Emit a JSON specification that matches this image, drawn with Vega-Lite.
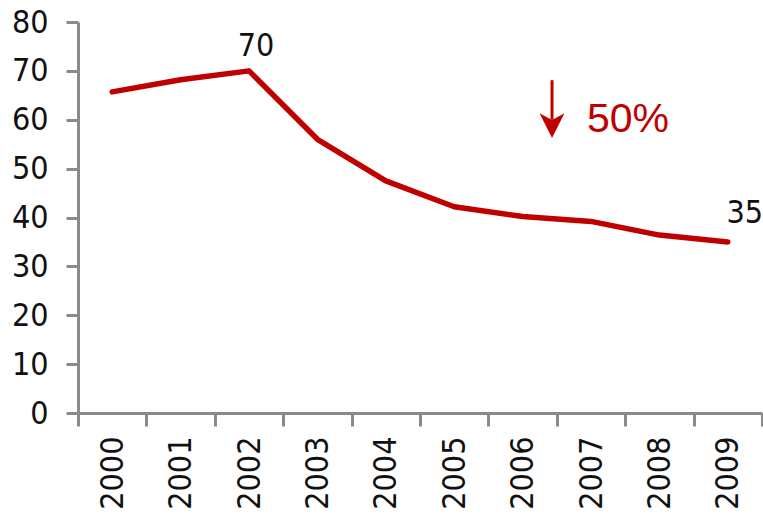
{
  "$schema": "https://vega.github.io/schema/vega-lite/v6.json",
  "width": 684,
  "height": 391,
  "autosize": "none",
  "padding": {"left": 78, "top": 22, "right": 1, "bottom": 107},
  "background": "white",
  "config": {"view": {"stroke": null}},
  "datasets": {
    "series": [
      {"year": "2000", "value": 65.7},
      {"year": "2001", "value": 68.2},
      {"year": "2002", "value": 70},
      {"year": "2003", "value": 56},
      {"year": "2004", "value": 47.5},
      {"year": "2005", "value": 42.2},
      {"year": "2006", "value": 40.2},
      {"year": "2007", "value": 39.2},
      {"year": "2008", "value": 36.4},
      {"year": "2009", "value": 35}
    ],
    "label70": [
      {"year": "2002", "value": 70, "label": "70"}
    ],
    "label35": [
      {"year": "2009", "value": 35, "label": "35"}
    ],
    "arrow": [
      {"year": "2006", "top": 68.1, "bottom": 60, "head": 58.8}
    ],
    "note": [
      {"year": "2007", "value": 57.5, "label": "50%"}
    ]
  },
  "encoding": {
    "x": {
      "field": "year",
      "type": "ordinal",
      "scale": {"type": "band", "paddingInner": 0, "paddingOuter": 0},
      "axis": {
        "title": null,
        "labelAngle": -90,
        "labelAlign": "right",
        "labelBaseline": "middle",
        "labelFont": "DejaVu Sans Condensed",
        "labelFontSize": 32,
        "labelColor": "#111111",
        "labelPadding": 10,
        "domainColor": "#8a8a8a",
        "domainWidth": 3,
        "tickColor": "#8a8a8a",
        "tickWidth": 3,
        "tickSize": 13,
        "tickBand": "extent",
        "grid": false
      }
    }
  },
  "layer": [
    {
      "data": {"name": "series"},
      "mark": {"type": "line", "color": "#c00000", "strokeWidth": 5.5, "strokeJoin": "round", "strokeCap": "round"},
      "encoding": {
        "y": {
          "field": "value",
          "type": "quantitative",
          "scale": {"domain": [0, 80], "nice": false},
          "axis": {
            "title": null,
            "values": [0, 10, 20, 30, 40, 50, 60, 70, 80],
            "labelFont": "DejaVu Sans Condensed",
            "labelFontSize": 32,
            "labelColor": "#111111",
            "labelPadding": 18,
            "domainColor": "#8a8a8a",
            "domainWidth": 3,
            "tickColor": "#8a8a8a",
            "tickWidth": 3,
            "tickSize": 12,
            "grid": false
          }
        }
      }
    },
    {
      "data": {"name": "label70"},
      "mark": {"type": "text", "font": "DejaVu Sans Condensed", "fontSize": 32, "color": "#111111", "align": "center", "baseline": "alphabetic", "dx": 7, "dy": -15},
      "encoding": {
        "y": {"field": "value", "type": "quantitative"},
        "text": {"field": "label"}
      }
    },
    {
      "data": {"name": "label35"},
      "mark": {"type": "text", "font": "DejaVu Sans Condensed", "fontSize": 32, "color": "#111111", "align": "center", "baseline": "alphabetic", "dx": 17, "dy": -19},
      "encoding": {
        "y": {"field": "value", "type": "quantitative"},
        "text": {"field": "label"}
      }
    },
    {
      "data": {"name": "arrow"},
      "mark": {"type": "rule", "color": "#c00000", "strokeWidth": 3},
      "encoding": {
        "x": {"field": "year", "type": "ordinal", "bandPosition": 0.93},
        "y": {"field": "top", "type": "quantitative"},
        "y2": {"field": "bottom"}
      }
    },
    {
      "data": {"name": "arrow"},
      "mark": {"type": "point", "shape": "M-1,-1L0,-0.45L1,-1L0,1Z", "filled": true, "color": "#c00000", "opacity": 1, "size": 620},
      "encoding": {
        "x": {"field": "year", "type": "ordinal", "bandPosition": 0.93},
        "y": {"field": "head", "type": "quantitative"}
      }
    },
    {
      "data": {"name": "note"},
      "mark": {"type": "text", "font": "Liberation Sans", "fontSize": 41, "color": "#c00000", "align": "left", "baseline": "alphabetic"},
      "encoding": {
        "x": {"field": "year", "type": "ordinal", "bandPosition": 0.44},
        "y": {"field": "value", "type": "quantitative"},
        "text": {"field": "label"}
      }
    }
  ]
}
